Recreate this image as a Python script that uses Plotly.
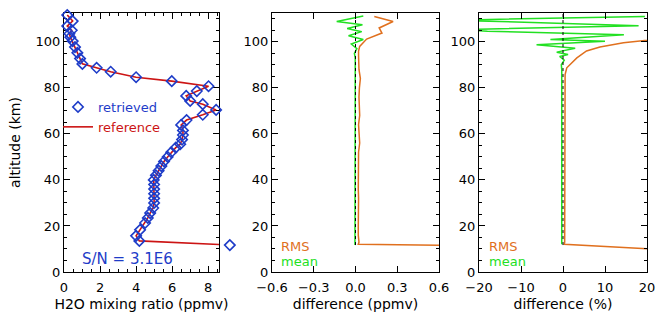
import plotly.graph_objects as go

# ---------------- data ----------------
# Panel 1: H2O profile (ppmv) vs altitude (km)
alt_profile = [11.7, 13.5, 15.7, 18.3, 21.3, 23.5, 25.6, 27.8, 30.0, 32.0, 34.0, 36.0, 38.0,
               40.0, 42.0, 44.0, 46.0, 48.0, 50.0, 52.0, 54.0, 55.5, 57.5, 59.5, 61.5, 63.9,
               66.0, 68.3, 70.4, 72.9, 74.3, 76.5, 78.6, 80.7, 82.9, 84.6, 87.0, 88.7, 90.4,
               92.7, 95.2, 97.7, 100.3, 102.0, 103.5, 105.0, 106.8, 109.0, 111.6]
h2o_reference = [9.2, 4.18, 4.0, 4.22, 4.5, 4.65, 4.78, 4.95, 5.0, 5.0, 5.0, 5.0, 5.0,
                 4.98, 5.1, 5.25, 5.4, 5.55, 5.75, 5.95, 6.2, 6.45, 6.55, 6.6, 6.6, 6.5,
                 6.8, 7.7, 8.44, 7.7, 7.0, 6.78, 7.37, 8.02, 5.98, 4.0, 2.59, 1.81, 1.02,
                 0.89, 0.74, 0.61, 0.48, 0.35, 0.3, 0.43, 0.18, 0.48, 0.18]
h2o_retrieved = [9.2, 4.18, 4.0, 4.22, 4.5, 4.65, 4.78, 4.95, 5.0, 5.0, 5.0, 5.0, 5.0,
                 4.98, 5.1, 5.25, 5.4, 5.55, 5.75, 5.95, 6.2, 6.45, 6.55, 6.6, 6.6, 6.5,
                 6.8, 7.7, 8.44, 7.7, 7.0, 6.78, 7.37, 8.02, 5.98, 4.0, 2.59, 1.81, 1.02,
                 0.89, 0.74, 0.61, 0.48, 0.35, 0.3, 0.43, 0.18, 0.48, 0.18]

# Panel 2: differences in ppmv
alt_rms_ppmv = [9.9, 12.0, 13.0, 16, 20, 24, 28, 32, 36, 40, 44, 48, 52, 56, 60, 64, 68, 72,
                76, 80, 84, 88, 92, 94, 96, 98.0, 101.2, 103.8, 106.0, 108.8, 111.0]
rms_ppmv = [3.0, 0.02, 0.025, 0.02, 0.02, 0.022, 0.025, 0.022, 0.02, 0.02, 0.022, 0.025,
            0.022, 0.03, 0.025, 0.022, 0.03, 0.025, 0.025, 0.028, 0.035, 0.025, 0.02, 0.022,
            0.022, 0.03, 0.08, 0.19, 0.17, 0.27, 0.135]
alt_mean_ppmv = [11.7, 20, 30, 40, 50, 60, 70, 80, 90, 93.0, 95.0, 97.0, 99.0, 101.0, 102.6,
                 104.4, 105.8, 107.4, 108.8, 111.2]
mean_ppmv = [-0.004, -0.004, -0.003, -0.004, -0.003, -0.004, -0.004, -0.003, -0.005, -0.002,
             -0.008, 0.01, -0.03, 0.056, -0.05, 0.045, -0.06, 0.05, -0.135, 0.056]

# Panel 3: differences in %
alt_rms_pct = [9.9, 12.0, 13, 16, 20, 24, 28, 32, 36, 40, 44, 48, 52, 56, 60, 64, 68, 72, 76,
               80, 84, 85.8, 88.7, 90.9, 93.0, 96.0, 97.7, 99.6, 101.0, 103.5, 106.4, 108.3, 111.2]
rms_pct = [22, 0.3, 0.4, 0.4, 0.45, 0.4, 0.5, 0.45, 0.4, 0.45, 0.5, 0.45, 0.5, 0.45, 0.5, 0.45,
           0.5, 0.45, 0.55, 0.5, 0.45, 0.5, 0.9, 2.1, 3.3, 5.6, 8.8, 14.4, 20, 35, 45, 60, 50]
alt_mean_pct = [12, 20, 30, 40, 50, 60, 70, 80, 88, 90.0, 92.0, 93.6, 94.5, 95.5, 97.2, 98.7,
                100.2, 101.0, 103.0, 104.6, 105.3, 107.0, 109.4, 111.0]
mean_pct = [-0.3, -0.3, -0.2, -0.3, -0.3, -0.2, -0.3, -0.2, -0.3, -0.4, 0.3, -0.8, 1.2, -1.5,
            2.9, -6.3, 10.0, -3.0, 14.5, -18.0, -24.0, 18.0, -26.0, 19.5]

zero_alt = [11.7, 112.5]
zero_val = [0, 0]

# tick/label text
xtitle1 = "H2O mixing ratio (ppmv)"
xtitle2 = "difference (ppmv)"
xtitle3 = "difference (%)"
ytitle = "altitude (km)"

# ---------------- style ----------------
W, H = 658, 322
FONT = "DejaVu Sans"
BLUE = "#1E3CC8"
RED = "#CC1414"
ORANGE = "#E0701E"
GREEN = "#22E022"

# panel-1 x scale (px per ppmv) so that the overlay marker axis keeps the same scale
P1_LEFT, P1_RIGHT = 64, 219
P1_MAX = 8.6
P1_SCALE = (P1_RIGHT - P1_LEFT) / P1_MAX
P1_MARK_RIGHT = 240


def px(x):
    return x / W


def py(y):
    return 1 - y / H


fig = go.Figure()

# panel 1
fig.add_trace(go.Scatter(x=h2o_reference, y=alt_profile, mode="lines",
                         line=dict(color=RED, width=1.6), name=f"<span style='color:{RED}'>reference</span>",
                         legendrank=2, xaxis="x", yaxis="y"))
fig.add_trace(go.Scatter(x=h2o_retrieved, y=alt_profile, mode="markers",
                         marker=dict(symbol="diamond-open", size=8, color=BLUE, line=dict(width=1.6, color=BLUE)),
                         name=f"<span style='color:{BLUE}'>retrieved</span>", legendrank=1,
                         cliponaxis=False, xaxis="x4", yaxis="y"))

# panel 2
fig.add_trace(go.Scatter(x=rms_ppmv, y=alt_rms_ppmv, mode="lines", line=dict(color=ORANGE, width=1.5),
                         showlegend=False, xaxis="x2", yaxis="y2"))
fig.add_trace(go.Scatter(x=mean_ppmv, y=alt_mean_ppmv, mode="lines", line=dict(color=GREEN, width=1.5),
                         showlegend=False, xaxis="x2", yaxis="y2"))
fig.add_trace(go.Scatter(x=zero_val, y=zero_alt, mode="lines", line=dict(color="black", width=1, dash="dot"),
                         showlegend=False, xaxis="x2", yaxis="y2"))

# panel 3
fig.add_trace(go.Scatter(x=rms_pct, y=alt_rms_pct, mode="lines", line=dict(color=ORANGE, width=1.5),
                         showlegend=False, xaxis="x3", yaxis="y3"))
fig.add_trace(go.Scatter(x=mean_pct, y=alt_mean_pct, mode="lines", line=dict(color=GREEN, width=1.5),
                         showlegend=False, xaxis="x3", yaxis="y3"))
fig.add_trace(go.Scatter(x=zero_val, y=zero_alt, mode="lines", line=dict(color="black", width=1, dash="dot"),
                         showlegend=False, xaxis="x3", yaxis="y3"))

ydom = [py(272), py(13)]
common = dict(showline=True, linecolor="black", linewidth=1, mirror="ticks", ticks="inside",
              ticklen=6, tickwidth=1, tickcolor="black", showgrid=False, zeroline=False,
              automargin=False, tickfont=dict(family=FONT, size=13, color="black"))


def yax(anchor, title=None):
    d = dict(common, domain=ydom, anchor=anchor, range=[0, 112.5], dtick=20, tick0=0,
             minor=dict(ticks="inside", dtick=5, ticklen=3, tickcolor="black", showgrid=False))
    if title:
        d["title"] = dict(text=title, font=dict(family=FONT, size=14, color="black"), standoff=11)
    return d


def xax(anchor, dom, rng, dtick, title, fmt=None, minor=None):
    d = dict(common, domain=dom, anchor=anchor, range=rng, dtick=dtick, tick0=0,
             ticklabelstandoff=3,
             title=dict(text=title, font=dict(family=FONT, size=14, color="black"), standoff=5))
    if fmt:
        d["tickformat"] = fmt
    if minor:
        d["minor"] = dict(ticks="inside", dtick=minor, ticklen=3, tickcolor="black", showgrid=False)
    return d


fig.update_layout(
    width=W, height=H, margin=dict(l=0, r=0, t=0, b=0),
    paper_bgcolor="white", plot_bgcolor="rgba(0,0,0,0)",
    font=dict(family=FONT, size=13, color="black"),
    xaxis=xax("y", [px(P1_LEFT), px(P1_RIGHT)], [0, P1_MAX], 2, xtitle1, minor=0.5),
    xaxis2=xax("y2", [px(272), px(439)], [-0.6, 0.6], 0.3, xtitle2, fmt=".1f"),
    xaxis3=xax("y3", [px(479), px(647)], [-20, 20], 10, xtitle3),
    xaxis4=dict(domain=[px(P1_LEFT), px(P1_MARK_RIGHT)], anchor="y", visible=False,
                range=[0, (P1_MARK_RIGHT - P1_LEFT) / P1_SCALE], showgrid=False, zeroline=False),
    yaxis=yax("x", ytitle),
    yaxis2=yax("x2"),
    yaxis3=yax("x3"),
    showlegend=True,
    legend=dict(x=px(58), y=py(92), xanchor="left", yanchor="top", bgcolor="rgba(0,0,0,0)",
                font=dict(family=FONT, size=13), itemwidth=30, tracegroupgap=0),
    annotations=[
        dict(text="S/N = 3.1E6", x=px(80), y=py(259), xref="paper", yref="paper", xanchor="left",
             yanchor="middle", showarrow=False, font=dict(family=FONT, size=15, color=BLUE)),
        dict(text="RMS", x=px(279), y=py(247), xref="paper", yref="paper", xanchor="left",
             yanchor="middle", showarrow=False, font=dict(family=FONT, size=13, color=ORANGE)),
        dict(text="mean", x=px(279), y=py(261), xref="paper", yref="paper", xanchor="left",
             yanchor="middle", showarrow=False, font=dict(family=FONT, size=13, color=GREEN)),
        dict(text="RMS", x=px(487), y=py(247), xref="paper", yref="paper", xanchor="left",
             yanchor="middle", showarrow=False, font=dict(family=FONT, size=13, color=ORANGE)),
        dict(text="mean", x=px(487), y=py(261), xref="paper", yref="paper", xanchor="left",
             yanchor="middle", showarrow=False, font=dict(family=FONT, size=13, color=GREEN)),
    ],
)

fig.write_html("out.html")
